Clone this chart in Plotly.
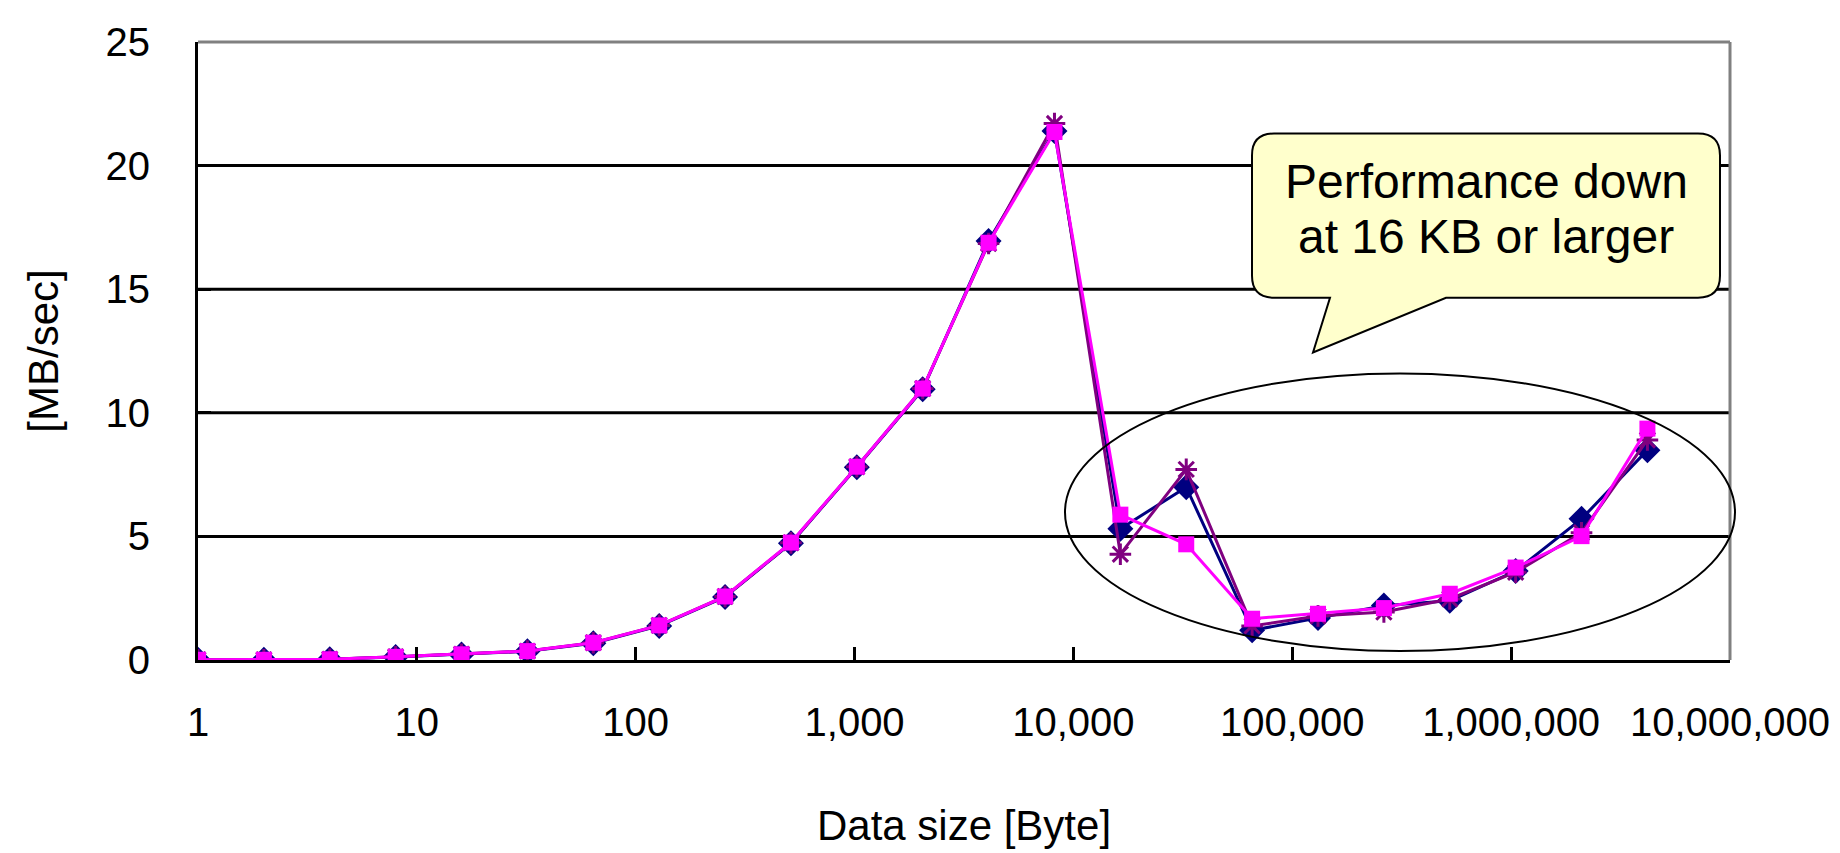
import plotly.graph_objects as go

# ---- data ----
data_size = [1, 2, 4, 8, 16, 32, 64, 128, 256, 512, 1024, 2048, 4096, 8192,
             16384, 32768, 65536, 131072, 262144, 524288, 1048576, 2097152, 4194304]
series_a = [0.01, 0.01, 0.03, 0.12, 0.22, 0.35, 0.68, 1.38, 2.55, 4.72, 7.80, 10.95,
            16.95, 21.40, 5.31, 6.99, 1.20, 1.70, 2.20, 2.40, 3.60, 5.71, 8.49]
series_b = [0.01, 0.01, 0.03, 0.13, 0.23, 0.36, 0.70, 1.40, 2.57, 4.74, 7.82, 10.98,
            16.85, 21.70, 4.28, 7.71, 1.38, 1.78, 1.94, 2.47, 3.55, 5.15, 8.90]
series_c = [0.01, 0.01, 0.03, 0.13, 0.23, 0.36, 0.70, 1.40, 2.57, 4.75, 7.82, 10.98,
            16.88, 21.36, 5.88, 4.68, 1.67, 1.87, 2.10, 2.68, 3.74, 5.01, 9.36]

x_tickvals = [1, 10, 100, 1000, 10000, 100000, 1000000, 10000000]
x_ticktext = ["1", "10", "100", "1,000", "10,000", "100,000", "1,000,000", "10,000,000"]
y_tickvals = [0, 5, 10, 15, 20, 25]
grid_vals = [5, 10, 15, 20]

callout_lines = ["Performance down", "at 16 KB or larger"]

SANS = "Liberation Sans, Arial"

# ---- layout geometry (pixels) ----
W, H = 1840, 853
L, R, T, B = 190, 1722, 31, 652
PW, PH = R - L, B - T


def px(x):
    return (x - L) / PW


def py(y):
    return (B - y) / PH


fig = go.Figure()

fig.add_trace(go.Scatter(
    x=data_size, y=series_a, mode="lines+markers", name="A",
    line=dict(color="#000080", width=3),
    marker=dict(symbol="diamond", size=20, color="#000080")))
fig.add_trace(go.Scatter(
    x=data_size, y=series_b, mode="lines+markers", name="B",
    line=dict(color="#800080", width=3),
    marker=dict(symbol="asterisk-open", size=18, color="#800080",
                line=dict(color="#800080", width=3))))
fig.add_trace(go.Scatter(
    x=data_size, y=series_c, mode="lines+markers", name="C",
    line=dict(color="#FF00FF", width=3),
    marker=dict(symbol="square", size=16, color="#FF00FF")))

shapes = []
# horizontal gridlines
for g in grid_vals:
    shapes.append(dict(type="line", xref="paper", yref="y", x0=0, x1=1, y0=g, y1=g,
                       line=dict(color="black", width=3), layer="below"))
# gray top / right border
shapes.append(dict(type="line", xref="paper", yref="paper", x0=0, x1=1, y0=1, y1=1,
                   line=dict(color="#808080", width=3), layer="above"))
shapes.append(dict(type="line", xref="paper", yref="paper", x0=1, x1=1, y0=0, y1=1,
                   line=dict(color="#808080", width=3), layer="above"))
# ellipse
shapes.append(dict(type="circle", xref="paper", yref="paper",
                   x0=px(1057), x1=px(1727), y0=py(643), y1=py(364),
                   line=dict(color="black", width=2), layer="above"))

# callout path (rounded rect with tail)
bl, br, bt, bb = 1244, 1712, 123, 288
r = 22
t1, t2, tipx, tipy = 1322, 1438, 1305, 343


def P(x, y):
    return f"{px(x):.5f},{py(y):.5f}"


path = (f"M {P(bl + r, bt)} L {P(br - r, bt)} Q {P(br, bt)} {P(br, bt + r)} "
        f"L {P(br, bb - r)} Q {P(br, bb)} {P(br - r, bb)} "
        f"L {P(t2, bb)} L {P(tipx, tipy)} L {P(t1, bb)} "
        f"L {P(bl + r, bb)} Q {P(bl, bb)} {P(bl, bb - r)} "
        f"L {P(bl, bt + r)} Q {P(bl, bt)} {P(bl + r, bt)} Z")
shapes.append(dict(type="path", xref="paper", yref="paper", path=path,
                   fillcolor="#FFFFCC", line=dict(color="black", width=2), layer="above"))

annotations = [
    dict(text=callout_lines[0], xref="paper", yref="paper", x=px(1478), y=py(171),
         xanchor="center", yanchor="middle", showarrow=False,
         font=dict(family=SANS, size=48, color="black")),
    dict(text=callout_lines[1], xref="paper", yref="paper", x=px(1478), y=py(226),
         xanchor="center", yanchor="middle", showarrow=False,
         font=dict(family=SANS, size=48, color="black")),
]

fig.update_layout(
    width=W, height=H,
    margin=dict(l=L, r=W - R, t=T, b=H - B, pad=0),
    paper_bgcolor="white", plot_bgcolor="white",
    showlegend=False,
    shapes=shapes, annotations=annotations,
    font=dict(family=SANS, color="black"),
)
fig.update_xaxes(
    type="log", range=[0, 7], tickvals=x_tickvals, ticktext=x_ticktext,
    showgrid=False, zeroline=False,
    showline=True, linecolor="black", linewidth=3,
    ticks="inside", ticklen=13, tickwidth=3, tickcolor="black",
    ticklabelstandoff=25,
    tickfont=dict(family=SANS, size=40, color="black"),
    title=dict(text="Data size [Byte]", standoff=68,
               font=dict(family=SANS, size=42, color="black")),
)
fig.update_yaxes(
    range=[0, 25], tickvals=y_tickvals,
    showgrid=False, zeroline=False,
    showline=True, linecolor="black", linewidth=3,
    ticks="inside", ticklen=13, tickwidth=3, tickcolor="black",
    ticklabelstandoff=37,
    tickfont=dict(family=SANS, size=40, color="black"),
    title=dict(text="[MB/sec]", standoff=34,
               font=dict(family=SANS, size=42, color="black")),
)

fig.write_html("out.html")
